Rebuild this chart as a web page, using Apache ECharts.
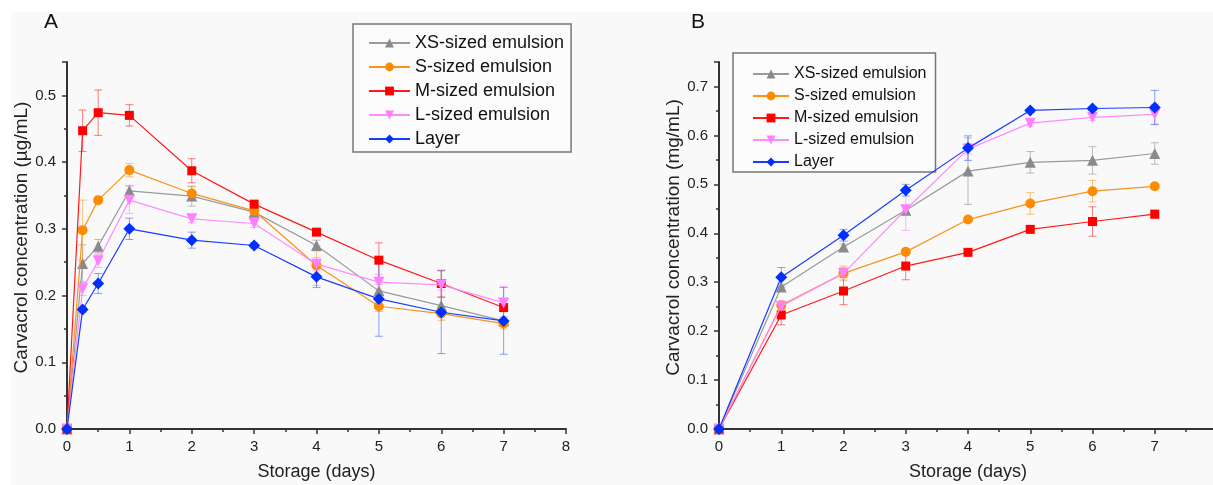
<!DOCTYPE html>
<html>
<head>
<meta charset="utf-8">
<script src="https://cdn.jsdelivr.net/npm/echarts@6/dist/echarts.min.js"></script>
<style>
html,body{margin:0;padding:0;background:#ffffff;}
#chart{width:1213px;height:485px;}
</style>
</head>
<body>
<div id="chart"></div>
<script>
// ---------- data ----------
const seriesNames = ['XS-sized emulsion', 'S-sized emulsion', 'M-sized emulsion', 'L-sized emulsion', 'Layer'];

// Panel A (µg/mL)
const daysA = [0, 0.25, 0.5, 1, 2, 3, 4, 5, 6, 7];
const A_XS      = [0, 0.248, 0.274, 0.357, 0.349, 0.325, 0.275, 0.207, 0.185, 0.162];
const A_XS_err  = [0, 0.028, 0.010, 0.008, 0.015, 0.006, 0.008, 0.010, 0.012, 0.006];
const A_S       = [0, 0.298, 0.343, 0.388, 0.353, 0.327, 0.245, 0.184, 0.173, 0.158];
const A_S_err   = [0, 0.045, 0.004, 0.010, 0.010, 0.005, 0.030, 0.008, 0.010, 0.008];
const A_M       = [0, 0.447, 0.474, 0.470, 0.387, 0.337, 0.295, 0.253, 0.218, 0.182];
const A_M_err   = [0, 0.031, 0.034, 0.016, 0.018, 0.004, 0.004, 0.026, 0.020, 0.006];
const A_L       = [0, 0.210, 0.252, 0.343, 0.315, 0.308, 0.247, 0.220, 0.216, 0.189];
const A_L_err   = [0, 0.010, 0.010, 0.020, 0.006, 0.006, 0.010, 0.012, 0.008, 0.025];
const A_Layer   = [0, 0.179, 0.218, 0.300, 0.283, 0.275, 0.228, 0.195, 0.175, 0.162];
const A_Layer_err = [0, 0.004, 0.015, 0.016, 0.012, 0.004, 0.016, 0.056, 0.062, 0.050];

// Panel B (mg/mL)
const daysB = [0, 1, 2, 3, 4, 5, 6, 7];
const B_XS      = [0, 0.290, 0.372, 0.447, 0.527, 0.545, 0.549, 0.563];
const B_XS_err  = [0, 0.006, 0.006, 0.008, 0.068, 0.022, 0.028, 0.022];
const B_S       = [0, 0.253, 0.318, 0.362, 0.428, 0.461, 0.486, 0.496];
const B_S_err   = [0, 0.008, 0.015, 0.004, 0.004, 0.022, 0.022, 0.004];
const B_M       = [0, 0.233, 0.282, 0.333, 0.361, 0.408, 0.424, 0.439];
const B_M_err   = [0, 0.020, 0.028, 0.028, 0.004, 0.004, 0.030, 0.008];
const B_L       = [0, 0.251, 0.318, 0.448, 0.572, 0.625, 0.637, 0.643];
const B_L_err   = [0, 0.008, 0.012, 0.042, 0.010, 0.006, 0.006, 0.020];
const B_Layer   = [0, 0.310, 0.396, 0.488, 0.574, 0.651, 0.655, 0.657];
const B_Layer_err = [0, 0.020, 0.012, 0.012, 0.025, 0.004, 0.004, 0.035];

// ---------- styles ----------
const lineColors   = ['#9a9a9a', '#f7931e', '#ff1a1a', '#ff8cff', '#1a3cff'];
const markerColors = ['#8a8a8a', '#ff8c00', '#ff0000', '#ff80ff', '#0030ff'];
const errColors    = ['rgba(140,140,140,0.55)', 'rgba(247,147,30,0.55)', 'rgba(255,0,0,0.5)', 'rgba(255,128,255,0.6)', 'rgba(0,48,255,0.45)'];
const symbols      = ['triangle', 'circle', 'rect', 'triangle', 'diamond'];
const symbolRot    = [0, 0, 0, 180, 0];
const symbolSizes  = [11, 10, 9, 11, 12];

const FONT = 'Arial, "Liberation Sans", sans-serif';

const panelA = [A_XS, A_S, A_M, A_L, A_Layer];
const panelAErr = [A_XS_err, A_S_err, A_M_err, A_L_err, A_Layer_err];
const panelB = [B_XS, B_S, B_M, B_L, B_Layer];
const panelBErr = [B_XS_err, B_S_err, B_M_err, B_L_err, B_Layer_err];

function errRender(params, api) {
  const x = api.value(0), lo = api.value(1), hi = api.value(2), ci = api.value(3);
  if (hi - lo <= 0) return null;
  const p1 = api.coord([x, hi]);
  const p2 = api.coord([x, lo]);
  const w = 4;
  const style = { stroke: errColors[ci], lineWidth: 1, fill: null };
  return {
    type: 'group',
    children: [
      { type: 'line', shape: { x1: p1[0], y1: p1[1], x2: p2[0], y2: p2[1] }, style: style },
      { type: 'line', shape: { x1: p1[0] - w, y1: p1[1], x2: p1[0] + w, y2: p1[1] }, style: style },
      { type: 'line', shape: { x1: p2[0] - w, y1: p2[1], x2: p2[0] + w, y2: p2[1] }, style: style }
    ]
  };
}

function buildSeries(days, vals, errs, axisIndex) {
  const out = [];
  vals.forEach((arr, i) => {
    const errData = days.map((d, k) => [d, arr[k] - errs[i][k], arr[k] + errs[i][k], i]);
    out.push({
      type: 'custom',
      xAxisIndex: axisIndex, yAxisIndex: axisIndex,
      renderItem: errRender,
      encode: { x: 0, y: [1, 2] },
      data: errData,
      z: 1,
      silent: true
    });
  });
  vals.forEach((arr, i) => {
    out.push({
      name: seriesNames[i],
      type: 'line',
      xAxisIndex: axisIndex, yAxisIndex: axisIndex,
      data: days.map((d, k) => [d, arr[k]]),
      symbol: symbols[i],
      symbolRotate: symbolRot[i],
      symbolSize: symbolSizes[i],
      showAllSymbol: true,
      lineStyle: { color: lineColors[i], width: 1.2 },
      itemStyle: { color: markerColors[i], borderWidth: 0 },
      z: 2 + i,
      animation: false
    });
  });
  return out;
}

const axisLineStyle = { color: '#333', width: 2 };

function xAxis(gi) {
  return {
    type: 'value', gridIndex: gi, min: 0, max: 8, interval: 1,
    axisLine: { show: true, onZero: false, lineStyle: axisLineStyle },
    axisTick: { show: true, length: 5, inside: false, lineStyle: { color: '#333', width: 1.5 } },
    minorTick: { show: true, splitNumber: 2, length: 3, lineStyle: { color: '#333', width: 1.5 } },
    splitLine: { show: false },
    axisLabel: { color: '#222', fontSize: 15, fontFamily: FONT, margin: 10 },
    name: 'Storage (days)', nameLocation: 'middle', nameGap: 34,
    nameTextStyle: { color: '#222', fontSize: 18, fontFamily: FONT }
  };
}
function yAxis(gi, max, unit) {
  return {
    type: 'value', gridIndex: gi, min: 0, max: max, interval: 0.1,
    axisLine: { show: true, onZero: false, lineStyle: axisLineStyle },
    axisTick: { show: true, length: 5, inside: false, lineStyle: { color: '#333', width: 1.5 } },
    minorTick: { show: true, splitNumber: 2, length: 3, lineStyle: { color: '#333', width: 1.5 } },
    splitLine: { show: false },
    axisLabel: { color: '#222', fontSize: 15, fontFamily: FONT, margin: 11, showMaxLabel: false,
      formatter: v => v.toFixed(1) },
    name: 'Carvacrol concentration (' + unit + ')', nameLocation: 'middle', nameGap: 35,
    nameTextStyle: { color: '#222', fontSize: 19, fontFamily: FONT, padding: [0, 0, 0, 16] }
  };
}

const chart = echarts.init(document.getElementById('chart'), null, { renderer: 'canvas' });
chart.setOption({
  backgroundColor: '#f9f9f9',
  animation: false,
  graphic: [
    { type: 'rect', shape: { x: 0, y: 0, width: 1213, height: 12 }, style: { fill: '#ffffff' }, z: -10, silent: true },
    { type: 'rect', shape: { x: 0, y: 0, width: 11, height: 485 }, style: { fill: '#ffffff' }, z: -10, silent: true },
    { type: 'text', left: 44, top: 12, style: { text: 'A', fontSize: 21, fontFamily: FONT, fill: '#111' } },
    { type: 'text', left: 691, top: 12, style: { text: 'B', fontSize: 21, fontFamily: FONT, fill: '#111' } }
  ],
  grid: [
    { left: 67, top: 62, width: 499, height: 367, outerBoundsMode: 'none', containLabel: false },
    { left: 719, top: 62, width: 498, height: 367, outerBoundsMode: 'none', containLabel: false }
  ],
  xAxis: [xAxis(0), xAxis(1)],
  yAxis: [yAxis(0, 0.55, 'µg/mL'), yAxis(1, 0.75, 'mg/mL')],
  legend: [
    {
      data: seriesNames, orient: 'vertical', left: 353, top: 24,
      padding: [10, 7, 4, 15], itemGap: 6, itemWidth: 41, itemHeight: 11,
      borderColor: '#777', borderWidth: 1.5, backgroundColor: '#fbfbfb',
      textStyle: { fontSize: 18, fontFamily: FONT, color: '#111', lineHeight: 16 },
      selectedMode: false
    },
    {
      data: seriesNames, orient: 'vertical', left: 733, top: 53,
      padding: [13, 9, 2, 19], itemGap: 6, itemWidth: 36, itemHeight: 11,
      borderColor: '#777', borderWidth: 1.5, backgroundColor: '#fbfbfb',
      textStyle: { fontSize: 16, fontFamily: FONT, color: '#111', lineHeight: 14 },
      selectedMode: false
    }
  ],
  series: [].concat(buildSeries(daysA, panelA, panelAErr, 0), buildSeries(daysB, panelB, panelBErr, 1))
});
</script>
</body>
</html>
